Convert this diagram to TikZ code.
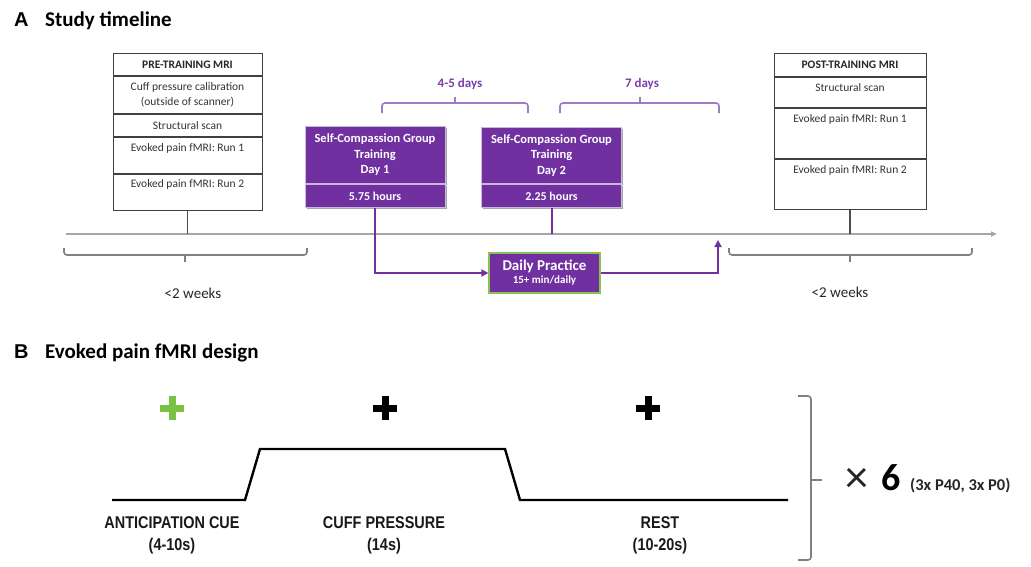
\documentclass[tikz,border=0pt]{standalone}
\usepackage{fontspec}
\setmainfont{Carlito}
\newfontfamily\arialf{Liberation Sans}
\newfontfamily\arialn[FakeStretch=0.85]{Liberation Sans}
\usetikzlibrary{arrows.meta,shadows}
\definecolor{mpurple}{HTML}{7030A0}
\definecolor{bpurple}{HTML}{9E7BC4}
\definecolor{tpurple}{HTML}{7A3DAA}
\definecolor{pedge}{HTML}{C9B8DA}
\definecolor{lgreen}{HTML}{8CC152}
\definecolor{cgreen}{HTML}{7CC242}
\definecolor{axgray}{HTML}{A6A6A6}
\definecolor{brgray}{HTML}{808080}
\tikzset{
  mrirow/.style={draw=black!75, line width=1pt, minimum width=#1, inner sep=0pt, anchor=north},
  rowtext/.style={font=\fontsize{11.5}{15}\selectfont, text=black!80, align=center, inner sep=0pt, anchor=north},
  rowhead/.style={font=\fontsize{11.5}{15}\selectfont\bfseries, text=black!85, inner sep=0pt},
  pbox/.style={fill=mpurple, draw=pedge, line width=1pt, text=white, minimum width=140pt, inner sep=0pt, align=center,
     font=\fontsize{12.5}{15.5}\selectfont\bfseries, anchor=north,
     drop shadow={shadow xshift=1.5pt, shadow yshift=-1.5pt, opacity=0.35, fill=black}},
  parrow/.style={draw=mpurple, line width=2pt, -{Triangle[length=7pt,width=7pt]}},
  pbrace/.style={draw=bpurple, line width=1.6pt, rounded corners=3pt},
  gbrace/.style={draw=brgray, line width=1.6pt, rounded corners=3pt},
  stem/.style={draw=black!70, line width=1.1pt},
  daylabel/.style={font=\fontsize{13}{15}\selectfont\bfseries, text=tpurple},
  weeklabel/.style={font=\fontsize{15}{17}\selectfont, text=black!85},
  title/.style={font=\fontsize{21}{24}\selectfont\bfseries, anchor=west, inner sep=0pt},
  letter/.style={font=\arialf\fontsize{20}{24}\selectfont\bfseries, anchor=west, inner sep=0pt},
  blabel/.style={font=\arialn\fontsize{17}{22}\selectfont\bfseries, align=center, inner sep=0pt, text=black!90},
}
\begin{document}
\begin{tikzpicture}[x=1pt, y=-1pt]
\useasboundingbox (0,0) rectangle (1031,566);

% ---------- Panel A ----------
\node[letter] (la) at (14,20) {A};
\node[title] (ta) at (45,21) {Study timeline};

% axis
\coordinate (axs) at (66,234);
\coordinate (axe) at (997,234);
\draw[draw=axgray, line width=1.5pt, -{Triangle[length=6pt,width=5pt,fill=black]}] (axs) -- (axe);

% Pre-training MRI box
\node[mrirow=149pt, minimum height=22pt] (pre1) at (187.5,53) {};
\node[rowhead] at (pre1) {PRE-TRAINING MRI};
\node[mrirow=149pt, minimum height=37pt] (pre2) at (pre1.south) {};
\node[rowtext, anchor=center] at (pre2) {Cuff pressure calibration\\(outside of scanner)};
\node[mrirow=149pt, minimum height=22pt] (pre3) at (pre2.south) {};
\node[rowtext, anchor=center] at (pre3) {Structural scan};
\node[mrirow=149pt, minimum height=36pt] (pre4) at (pre3.south) {};
\node[rowtext] at ([yshift=-6pt]pre4.north) {Evoked pain fMRI: Run 1};
\node[mrirow=149pt, minimum height=36pt] (pre5) at (pre4.south) {};
\node[rowtext] at ([yshift=-5pt]pre5.north) {Evoked pain fMRI: Run 2};
\draw[stem] (pre5.south) -- (pre5.south |- axs);

% Post-training MRI box
\node[mrirow=152pt, minimum height=23pt] (post1) at (850,53) {};
\node[rowhead] at (post1) {POST-TRAINING MRI};
\node[mrirow=152pt, minimum height=30pt] (post2) at (post1.south) {};
\node[rowtext] at ([yshift=-6pt]post2.north) {Structural scan};
\node[mrirow=152pt, minimum height=50pt] (post3) at (post2.south) {};
\node[rowtext] at ([yshift=-6pt]post3.north) {Evoked pain fMRI: Run 1};
\node[mrirow=152pt, minimum height=50pt] (post4) at (post3.south) {};
\node[rowtext] at ([yshift=-6pt]post4.north) {Evoked pain fMRI: Run 2};
\draw[stem] (post4.south) -- (post4.south |- axs);

% Purple training boxes
\node[pbox, minimum height=57pt] (d1a) at (375,126) {Self-Compassion Group\\Training\\Day 1};
\node[pbox, minimum height=23pt, font=\fontsize{12}{14}\selectfont\bfseries] (d1b) at (d1a.south) {5.75 hours};
\node[pbox, minimum height=56pt] (d2a) at (551.5,127) {Self-Compassion Group\\Training\\Day 2};
\node[pbox, minimum height=23pt, font=\fontsize{12}{14}\selectfont\bfseries] (d2b) at (d2a.south) {2.25 hours};

% Daily practice
\node[fill=mpurple, draw=lgreen, line width=1.2pt, text=white, minimum width=111pt, minimum height=40pt,
      inner sep=0pt, align=center] (dp) at (544.5,273)
      {{\fontsize{15}{17}\selectfont\bfseries Daily Practice}\\[1pt]{\fontsize{11}{13}\selectfont\bfseries 15+ min/daily}};

\draw[draw=mpurple, line width=2pt] (d2b.south) -- (d2b.south |- axs);
\draw[parrow] (d1b.south) |- (dp.west);
\coordinate (tip) at (718,240);
\draw[parrow] (dp.east) -| (tip);

% purple braces
\draw[pbrace] (382,113) -- (382,103) -- (528,103) -- (528,113);
\draw[draw=bpurple, line width=1.6pt] (455,103) -- (455,97);
\node[daylabel] (l45) at (460,84) {4-5 days};
\draw[pbrace] (560,113) -- (560,103) -- (719,103) -- (719,113);
\draw[draw=bpurple, line width=1.6pt] (640,103) -- (640,97);
\node[daylabel] (l7) at (642,84) {7 days};

% gray braces
\draw[gbrace] (64,248) -- (64,255) -- (307,255) -- (307,248);
\draw[draw=brgray, line width=1.6pt] (185,255) -- (185,262);
\node[weeklabel] (w1) at (193,293) {<2 weeks};
\draw[gbrace] (729,248) -- (729,255) -- (972,255) -- (972,248);
\draw[draw=brgray, line width=1.6pt] (850,255) -- (850,262);
\node[weeklabel] (w2) at (840,292) {<2 weeks};

% ---------- Panel B ----------
\node[letter] (lb) at (14,352) {B};
\node[title] (tb) at (45,353) {Evoked pain fMRI design};

% fixation crosses
\foreach \cx/\col/\nm in {172/cgreen/c1, 385/black/c2, 648/black/c3}{
  \coordinate (\nm) at (\cx,408);
  \draw[draw=\col, line width=7pt] ([xshift=-12pt]\nm) -- ([xshift=12pt]\nm);
  \draw[draw=\col, line width=7pt] ([yshift=-12pt]\nm) -- ([yshift=12pt]\nm);
}

% waveform
\draw[line width=2.4pt, line join=miter] (112,500) -- (245,500) -- (260,449) -- (505,449) -- (520,500) -- (788,500);

\node[blabel] (b1) at (172,535) {ANTICIPATION CUE\\(4-10s)};
\node[blabel] (b2) at (384,535) {CUFF PRESSURE\\(14s)};
\node[blabel] (b3) at (660,535) {REST\\(10-20s)};

% repeat bracket
\draw[gbrace] (798,396) -- (811,396) -- (811,560) -- (798,560);
\draw[draw=brgray, line width=1.6pt] (811,480) -- (822,480);
\node[inner sep=0pt, font=\fontsize{46}{46}\selectfont, text=black!85] (times) at (857,480) {×};
\node[inner sep=0pt, font=\fontsize{38}{40}\selectfont\bfseries] (six) at (891,478) {6};
\node[anchor=west, inner sep=0pt, font=\fontsize{16.5}{18}\selectfont\bfseries, text=black!85] (reps) at (910,486) {(3x P40, 3x P0)};
\end{tikzpicture}
\end{document}
